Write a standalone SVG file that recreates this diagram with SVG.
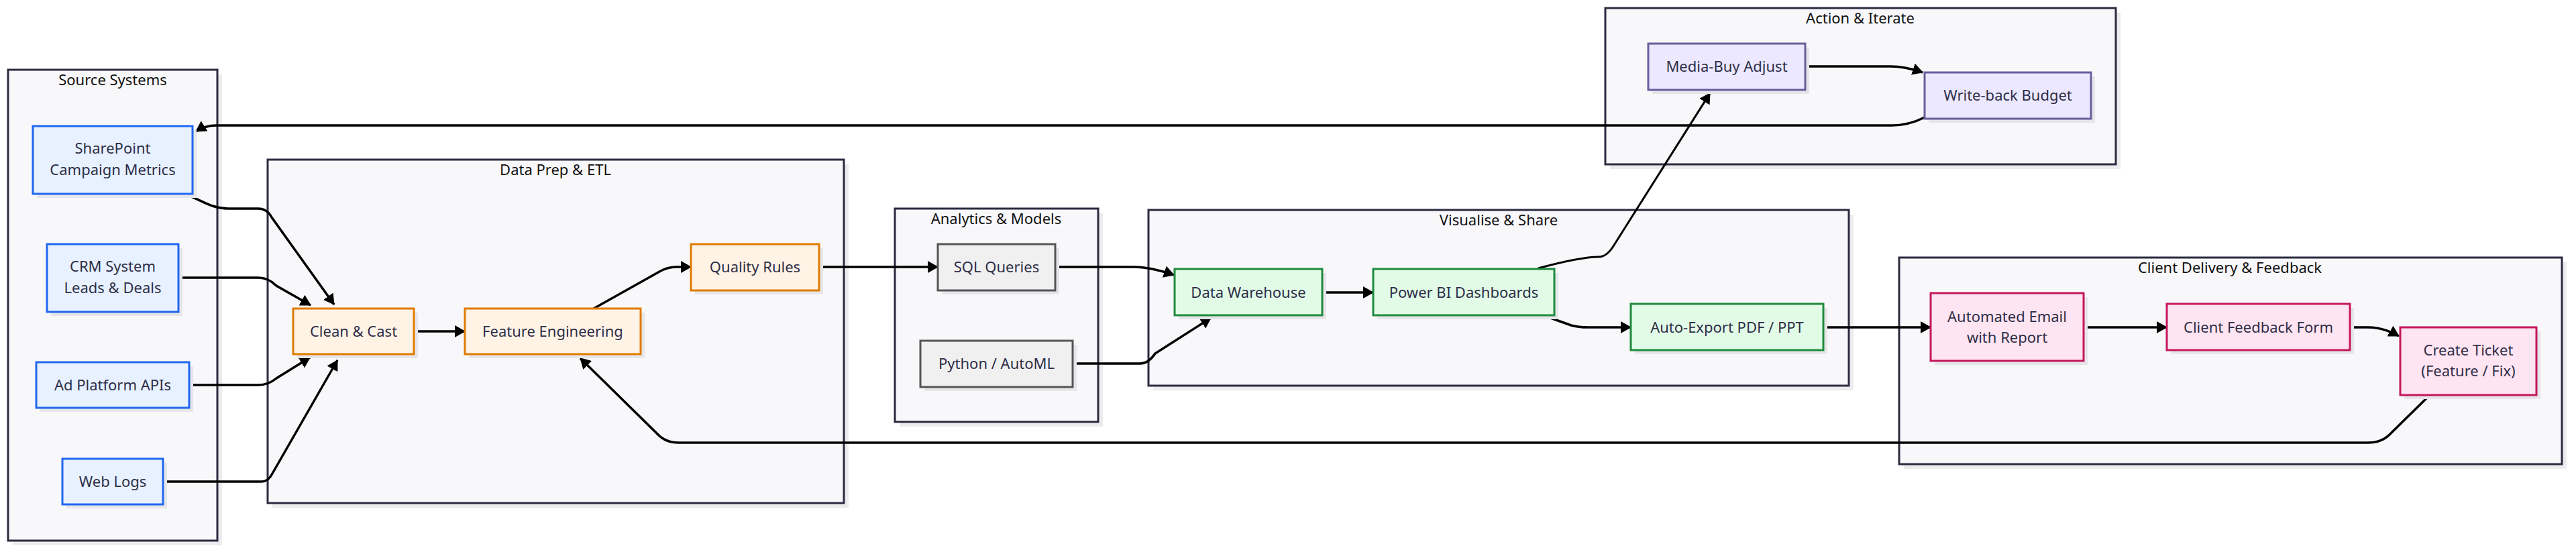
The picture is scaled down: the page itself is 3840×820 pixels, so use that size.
<svg xmlns="http://www.w3.org/2000/svg" width="3840" height="820" viewBox="0 0 3840 820">
<style>
.bg{fill:#ffffff}
.cl{fill:#f8f8fa;stroke:#2b2b40;stroke-width:3}
.csh{fill:#ececef}
.nsh{fill:#e6e6ea}
.t{font-family:"Noto Sans","Liberation Sans",sans-serif;font-size:22px;fill:#2e2e48;text-anchor:middle}
.ct{font-family:"Noto Sans","Liberation Sans",sans-serif;font-size:22px;fill:#111111;text-anchor:middle}
.src{fill:#e7f1ff;stroke:#2167f0;stroke-width:3}
.org{fill:#fff3e6;stroke:#e07b00;stroke-width:3}
.gry{fill:#f0f0f0;stroke:#555555;stroke-width:3}
.grn{fill:#e1fbe7;stroke:#1f8a3d;stroke-width:3}
.pur{fill:#ebe8ff;stroke:#6b5c9c;stroke-width:3}
.pnk{fill:#ffe4f1;stroke:#c4185c;stroke-width:3}
.e{fill:none;stroke:#000;stroke-width:3.5;marker-end:url(#ah)}
.e2{fill:none;stroke:#000;stroke-width:3;marker-end:url(#ah)}
</style>
<defs>
<marker id="ah" viewBox="0 0 16 18" refX="15" refY="9" markerWidth="16" markerHeight="18" markerUnits="userSpaceOnUse" orient="auto"><path d="M0,0 L16,9 L0,18 z" fill="#000"/></marker>
</defs>
<rect class="bg" x="0" y="0" width="3840" height="820"/>

<g id="clusters">
<g id="c-source"><rect class="csh" x="19" y="111" width="312" height="702"/><rect class="cl" x="12" y="104" width="312" height="702"/><text class="ct" x="168" y="127">Source Systems</text></g>
<g id="c-prep"><rect class="csh" x="406" y="245" width="859" height="512"/><rect class="cl" x="399" y="238" width="859" height="512"/><text class="ct" x="828" y="261">Data Prep &amp; ETL</text></g>
<g id="c-analytics"><rect class="csh" x="1341" y="318" width="303" height="318"/><rect class="cl" x="1334" y="311" width="303" height="318"/><text class="ct" x="1485" y="334">Analytics &amp; Models</text></g>
<g id="c-visual"><rect class="csh" x="1719" y="320" width="1044" height="262"/><rect class="cl" x="1712" y="313" width="1044" height="262"/><text class="ct" x="2234" y="336">Visualise &amp; Share</text></g>
<g id="c-action"><rect class="csh" x="2400" y="19" width="761" height="233"/><rect class="cl" x="2393" y="12" width="761" height="233"/><text class="ct" x="2773" y="35">Action &amp; Iterate</text></g>
<g id="c-client"><rect class="csh" x="2838" y="391" width="988" height="308"/><rect class="cl" x="2831" y="384" width="988" height="308"/><text class="ct" x="3324" y="407">Client Delivery &amp; Feedback</text></g>
</g>

<g id="connectors">
<path class="e" d="M275,289 C300,298 315,311 340,311 L385,311 Q398,311 405,324 L498,454"/>
<path class="e" d="M266,414 L385,414 Q400,414 412,426 L463,455"/>
<path class="e" d="M282,574 L385,574 Q400,574 412,564 L462,533"/>
<path class="e" d="M243,718 L390,718 Q400,718 406,706 L503,537"/>
<path class="e" d="M617,494 L693,494"/>
<path class="e" d="M885,460 L983,405 Q995,398 1008,398 L1030,398"/>
<path class="e" d="M1221,398 L1398,398"/>
<path class="e" d="M1573,398 L1690,398 Q1715,398 1750,410"/>
<path class="e" d="M1599,542 L1700,542 Q1712,542 1722,527 L1805,474"/>
<path class="e" d="M1971,436 L2047,436"/>
<path class="e" d="M2300,470 L2342,485 Q2352,488 2368,488 L2431,488"/>
<path class="e2" d="M2293,400 C2330,390 2360,383 2383,383 Q2395,383 2405,367 L2549,139"/>
<path class="e" d="M2691,99 L2818,99 Q2840,99 2866,108"/>
<path class="e" d="M2869,175 Q2845,187 2820,187 L322,187 Q306,187 292,196"/>
<path class="e" d="M2718,488 L2878,488"/>
<path class="e" d="M3106,488 L3230,488"/>
<path class="e" d="M3503,488 L3530,488 Q3553,488 3576,501"/>
<path class="e" d="M3622,589 L3562,648 Q3550,660 3530,660 L1012,660 Q992,660 980,647 L865,534"/>
</g>

<g id="n-sharepoint"><rect class="nsh" x="55" y="194" width="238" height="101"/><rect class="src" x="49" y="188" width="238" height="101"/><text class="t" x="168" y="229">SharePoint</text><text class="t" x="168" y="261">Campaign Metrics</text></g>
<g id="n-crm"><rect class="nsh" x="76" y="370" width="196" height="101"/><rect class="src" x="70" y="364" width="196" height="101"/><text class="t" x="168" y="405">CRM System</text><text class="t" x="168" y="437">Leads &amp; Deals</text></g>
<g id="n-ad"><rect class="nsh" x="60" y="546" width="228" height="68"/><rect class="src" x="54" y="540" width="228" height="68"/><text class="t" x="168" y="582">Ad Platform APIs</text></g>
<g id="n-web"><rect class="nsh" x="99" y="690" width="150" height="68"/><rect class="src" x="93" y="684" width="150" height="68"/><text class="t" x="168" y="726">Web Logs</text></g>

<g id="n-clean"><rect class="nsh" x="443" y="466" width="180" height="68"/><rect class="org" x="437" y="460" width="180" height="68"/><text class="t" x="527" y="502">Clean &amp; Cast</text></g>
<g id="n-feature"><rect class="nsh" x="699" y="466" width="262" height="68"/><rect class="org" x="693" y="460" width="262" height="68"/><text class="t" x="824" y="502">Feature Engineering</text></g>
<g id="n-quality"><rect class="nsh" x="1036" y="370" width="191" height="69"/><rect class="org" x="1030" y="364" width="191" height="69"/><text class="t" x="1125.5" y="406">Quality Rules</text></g>

<g id="n-sql"><rect class="nsh" x="1404" y="370" width="175" height="69"/><rect class="gry" x="1398" y="364" width="175" height="69"/><text class="t" x="1485.5" y="406">SQL Queries</text></g>
<g id="n-python"><rect class="nsh" x="1378" y="514" width="227" height="69"/><rect class="gry" x="1372" y="508" width="227" height="69"/><text class="t" x="1485.5" y="550">Python / AutoML</text></g>

<g id="n-dw"><rect class="nsh" x="1757" y="407" width="220" height="69"/><rect class="grn" x="1751" y="401" width="220" height="69"/><text class="t" x="1861" y="444">Data Warehouse</text></g>
<g id="n-pbi"><rect class="nsh" x="2053" y="407" width="270" height="69"/><rect class="grn" x="2047" y="401" width="270" height="69"/><text class="t" x="2182" y="444">Power BI Dashboards</text></g>
<g id="n-export"><rect class="nsh" x="2437" y="459" width="287" height="69"/><rect class="grn" x="2431" y="453" width="287" height="69"/><text class="t" x="2574.5" y="496">Auto-Export PDF / PPT</text></g>

<g id="n-media"><rect class="nsh" x="2463" y="71" width="234" height="69"/><rect class="pur" x="2457" y="65" width="234" height="69"/><text class="t" x="2574" y="107">Media-Buy Adjust</text></g>
<g id="n-writeback"><rect class="nsh" x="2875" y="114" width="248" height="69"/><rect class="pur" x="2869" y="108" width="248" height="69"/><text class="t" x="2993" y="150">Write-back Budget</text></g>

<g id="n-email"><rect class="nsh" x="2884" y="443" width="228" height="101"/><rect class="pnk" x="2878" y="437" width="228" height="101"/><text class="t" x="2992" y="480">Automated Email</text><text class="t" x="2992" y="511">with Report</text></g>
<g id="n-feedback"><rect class="nsh" x="3236" y="459" width="273" height="69"/><rect class="pnk" x="3230" y="453" width="273" height="69"/><text class="t" x="3366.5" y="496">Client Feedback Form</text></g>
<g id="n-ticket"><rect class="nsh" x="3584" y="494" width="203" height="101"/><rect class="pnk" x="3578" y="488" width="203" height="101"/><text class="t" x="3679.5" y="530">Create Ticket</text><text class="t" x="3679.5" y="561">(Feature / Fix)</text></g>
</svg>
